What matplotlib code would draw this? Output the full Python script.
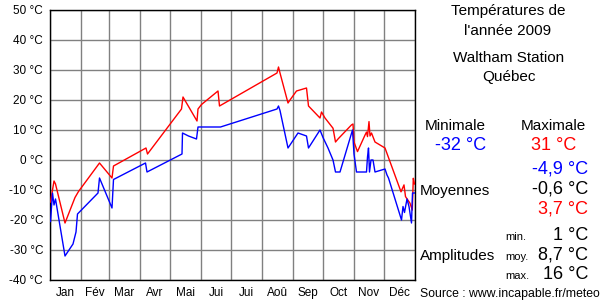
import matplotlib
matplotlib.use("Agg")
import matplotlib.pyplot as plt

plt.rcParams['font.family'] = ['Liberation Sans', 'DejaVu Sans']

# month labels and day-of-year boundaries (2009)
months = ["Jan", "Fév", "Mar", "Avr", "Mai", "Jui", "Jui", "Aoû", "Sep", "Oct", "Nov", "Déc"]
month_starts = [0, 31, 59, 90, 120, 151, 181, 212, 243, 273, 304, 334, 365]
temp_ticks = [-40, -30, -20, -10, 0, 10, 20, 30, 40, 50]

max_days = [0.5, 2, 4, 5.5, 15, 25, 28.5, 49.5, 62, 63.5, 96, 97.5,
            131.5, 133, 147, 148, 151.5, 168, 169.5, 227, 228.5, 230,
            238, 240, 246.5, 256.5, 258.5, 270, 271.5, 275, 283, 285.5,
            288, 301.5, 303, 304, 307.5, 315, 316.5, 317.5, 319, 320,
            321.5, 325, 335, 351, 354, 355.5, 360, 362.3, 363.3, 364.5]
max_temps = [-14, -11, -7, -8, -21, -12.5, -10.5, -1, -6, -2, 4, 2,
             17, 21, 13, 17, 18.5, 23, 18, 29, 31, 29,
             19, 20, 23, 24, 18, 14, 16, 14, 10.6, 6,
             7, 11.7, 12, 6, 2.8, 8.3, 9.3, 7.8, 12.8, 8,
             9, 6, 4, -10.6, -8.3, -12.2, -14.4, -16.7, -6.1, -8]

# daily minimum (blue)
min_days = [0.5, 2.5, 4, 5.5, 15, 23, 26, 27.5, 48, 49.5, 62, 63.5,
            95.5, 97, 132, 132.5, 138.5, 146.5, 148, 170.5, 227, 228.5,
            230, 238, 248, 256.5, 258.5, 270, 273, 278, 283, 285.5, 290,
            302.5, 304, 306.5, 316.5, 317.5, 318.5, 319.5, 321, 323, 325,
            335, 337, 338.5, 351.5, 353, 354.5, 357, 359, 361.5, 362.5, 364.5]
min_temps = [-20.5, -11, -15, -13, -32, -28, -24, -18, -11, -6, -16, -6.5,
             -1, -4, 2, 9, 8, 7, 11, 11, 17, 18,
             16.5, 4, 9, 8, 4, 10, 7.5, 4, 0, -4, -4,
             10, 2, -4, -4, 1, 4, -4, 0, 0, -4,
             -3, -5, -6, -20, -15.5, -17.5, -13, -15.5, -21, -11, -11]

fig = plt.figure(figsize=(6, 3), dpi=100)
W, H = 600.0, 300.0
ax = fig.add_axes([50 / W, 20 / H, 365 / W, 270 / H])

ax.plot(max_days, max_temps, color='#ff0000', lw=1, zorder=3)
ax.plot(min_days, min_temps, color='#0000ff', lw=1, zorder=3)

ax.set_xlim(0, 365)
ax.set_ylim(-40, 50)
ax.set_xticks(month_starts)
ax.set_xticklabels([])
mids = [(a + b) / 2 for a, b in zip(month_starts[:-1], month_starts[1:])]
ax.set_xticks(mids, minor=True)
ax.set_xticklabels(months, minor=True, fontsize=8.5)
ax.set_yticks(temp_ticks)
ax.set_yticklabels(["%d °C" % t for t in temp_ticks], fontsize=8.5)
ax.tick_params(which='both', length=0)
ax.tick_params(axis='y', pad=5)
ax.tick_params(axis='x', which='minor', pad=5)
ax.grid(which='major', color='#808080', lw=1)
ax.set_axisbelow(True)
for s in ax.spines.values():
    s.set_color('black')
    s.set_linewidth(1)


def txt(x, y, s, ha='left', size=11, color='black'):
    fig.text(x / W, 1 - y / H, s, ha=ha, va='baseline', fontsize=size, color=color)


txt(508, 15, "Températures de", ha='center')
txt(508, 35, "l'année 2009", ha='center')
txt(509, 62, "Waltham Station", ha='center')
txt(509, 81, "Québec", ha='center')

txt(455, 130, "Minimale", ha='center')
txt(553, 130, "Maximale", ha='center')
txt(461, 150, "-32 °C", ha='center', size=13, color='#0000ff')
txt(554, 150, "31 °C", ha='center', size=13, color='#ff0000')

txt(588, 174, "-4,9 °C", ha='right', size=13, color='#0000ff')
txt(420, 195, "Moyennes")
txt(588, 194, "-0,6 °C", ha='right', size=13)
txt(588, 214, "3,7 °C", ha='right', size=13, color='#ff0000')

txt(505, 240, "min.", size=8)
txt(588, 240, "1 °C", ha='right', size=13)
txt(420, 260, "Amplitudes")
txt(505, 260, "moy.", size=8)
txt(588, 260, "8,7 °C", ha='right', size=13)
txt(505, 279, "max.", size=8)
txt(588, 279, "16 °C", ha='right', size=13)

txt(420, 297, "Source : www.incapable.fr/meteo", size=8.8)

fig.savefig("out.png", dpi=100)
